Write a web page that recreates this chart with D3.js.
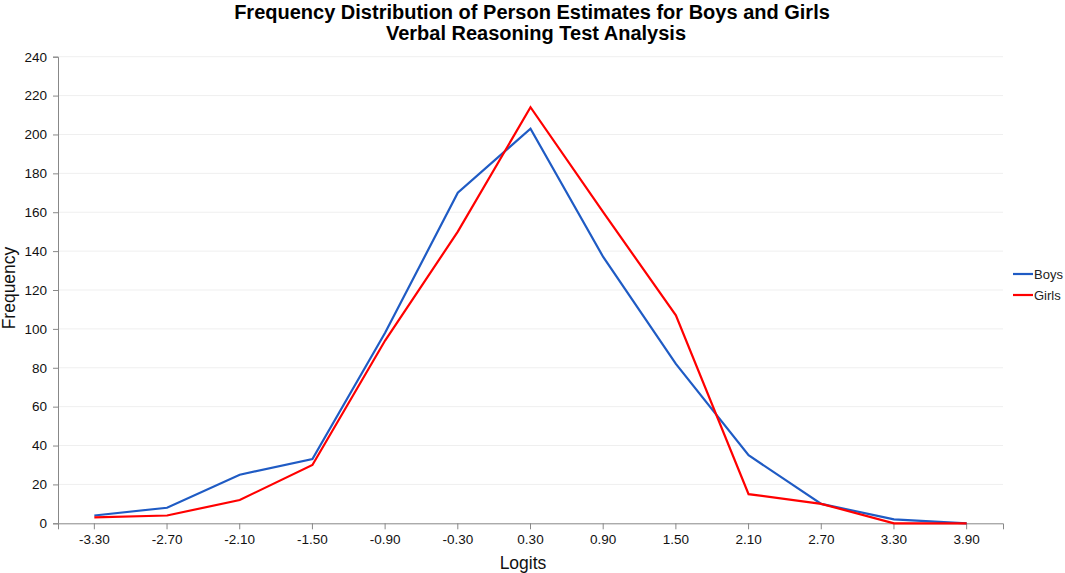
<!DOCTYPE html>
<html><head><meta charset="utf-8">
<script src="https://cdn.jsdelivr.net/npm/d3@7"></script>
<style>body{margin:0;background:#fff;} text{font-family:"Liberation Sans",Arial,sans-serif;}</style>
</head><body>
<svg id="c" width="1065" height="573"></svg>
<script>
const categories = ["-3.30","-2.70","-2.10","-1.50","-0.90","-0.30","0.30","0.90","1.50","2.10","2.70","3.30","3.90"];
const boys  = [4, 8, 25, 33, 98, 170, 203, 137, 82, 35, 10, 2, 0];
const girls = [3, 4, 12, 30, 94, 150, 214, 160, 107, 15, 10, 0, 0];
const yTicks = [0,20,40,60,80,100,120,140,160,180,200,220,240];
const seriesNames = ["Boys","Girls"];
const seriesColors = ["#1f5bc4","#ff0000"];

(function(){
const svg = d3.select("#c");
const mLeft = 58, mRight = 1003, mTop = 56.7, mBottom = 523.3;
const x = d3.scaleBand().domain(categories).range([mLeft, mRight]);
const y = d3.scaleLinear().domain([0,240]).range([mBottom, mTop]);

// gridlines
svg.append("g").selectAll("line").data(yTicks.filter(d=>d>0)).join("line")
  .attr("x1", mLeft).attr("x2", mRight)
  .attr("y1", d=>y(d)).attr("y2", d=>y(d))
  .attr("stroke", "#efefef").attr("stroke-width", 1);

// y axis
const ya = svg.append("g").attr("transform", `translate(${mLeft},0)`)
  .call(d3.axisLeft(y).tickValues(yTicks).tickSize(5).tickPadding(6));
ya.select(".domain").attr("stroke", "#888");
ya.selectAll(".tick line").attr("stroke", "#888");
ya.selectAll("text").attr("font-size", 13.5).attr("fill", "#111")
  .style("font-family", '"Liberation Sans",Arial,sans-serif');

// x axis
const xa = svg.append("g").attr("transform", `translate(0,${mBottom})`)
  .call(d3.axisBottom(x).tickSize(6).tickSizeOuter(6).tickPadding(5));
xa.select(".domain").attr("stroke", "#888");
xa.selectAll(".tick line").attr("stroke", "#888");
xa.selectAll("text").attr("font-size", 13.5).attr("fill", "#111")
  .style("font-family", '"Liberation Sans",Arial,sans-serif');

// lines
const line = d3.line().x((d,i)=>x(categories[i]) + x.bandwidth()/2).y(d=>y(d));
[boys, girls].forEach((s,i)=>{
  svg.append("path").datum(s).attr("d", line)
    .attr("fill","none").attr("stroke", seriesColors[i]).attr("stroke-width", 2.2)
    .attr("stroke-linejoin","miter");
});

// titles
svg.append("text").attr("x", 532).attr("y", 19).attr("text-anchor","middle")
  .attr("font-size", 20).attr("font-weight","bold").attr("fill","#000")
  .text("Frequency Distribution of Person Estimates for Boys and Girls");
svg.append("text").attr("x", 536).attr("y", 40).attr("text-anchor","middle")
  .attr("font-size", 20).attr("font-weight","bold").attr("fill","#000")
  .text("Verbal Reasoning Test Analysis");

svg.append("text").attr("transform","translate(15,288) rotate(-90)")
  .attr("text-anchor","middle").attr("font-size", 17.5).attr("fill","#111").text("Frequency");
svg.append("text").attr("x", 523).attr("y", 569).attr("text-anchor","middle")
  .attr("font-size", 17.5).attr("fill","#111").text("Logits");

// legend
const lg = svg.append("g");
seriesNames.forEach((n,i)=>{
  const yy = 274 + i*21;
  lg.append("line").attr("x1",1013).attr("x2",1033).attr("y1",yy).attr("y2",yy)
    .attr("stroke", seriesColors[i]).attr("stroke-width",2.2);
  lg.append("text").attr("x",1034).attr("y",yy+4.5).attr("font-size",13).attr("fill","#222").text(n);
});
})();
</script>
</body></html>
